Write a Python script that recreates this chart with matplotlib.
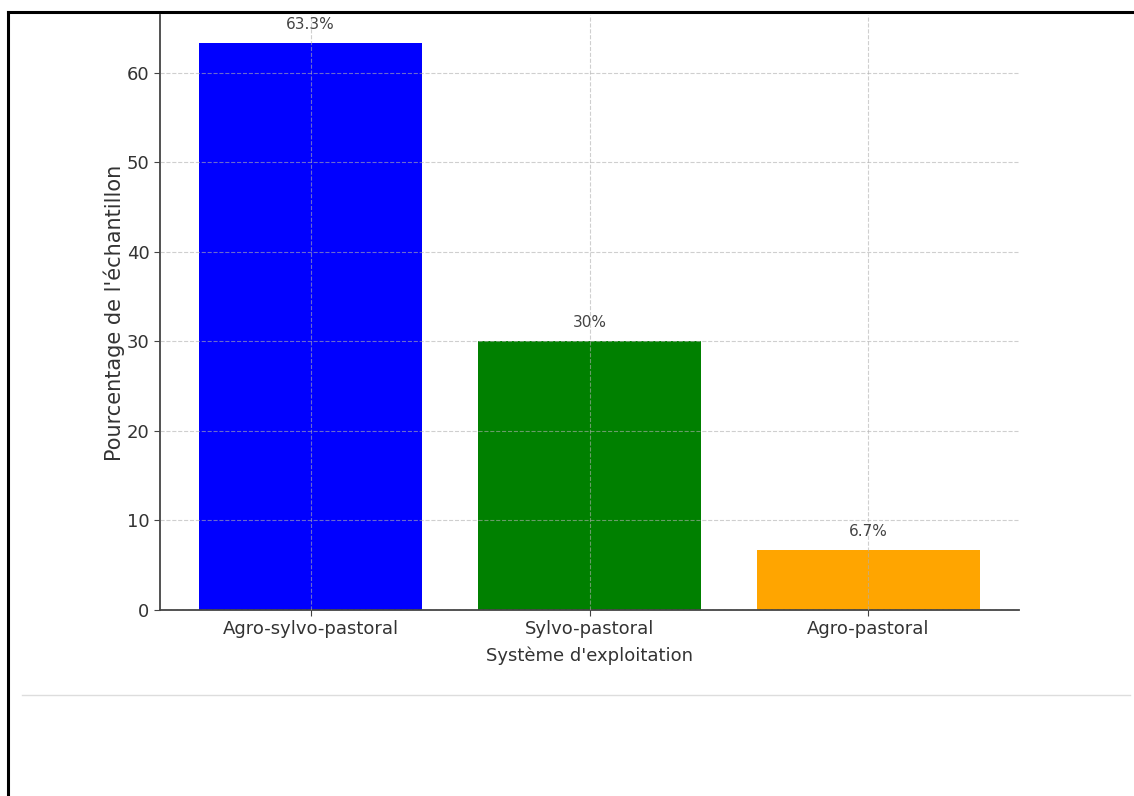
import matplotlib
matplotlib.use("Agg")
import matplotlib.pyplot as plt
from matplotlib.lines import Line2D

categories = ["Agro-sylvo-pastoral", "Sylvo-pastoral", "Agro-pastoral"]
values = [63.3, 30.0, 6.7]
value_labels = ["63.3%", "30%", "6.7%"]
colors = ["blue", "green", "orange"]

plt.rcParams["font.family"] = ["DejaVu Sans"]
text_color = "#333333"

fig = plt.figure(figsize=(11.34, 7.96), dpi=100)
ax = fig.add_axes([160 / 1134, 1 - 610 / 796, (1019 - 160) / 1134, (610 - 15) / 796])

x = range(len(categories))
bars = ax.bar(x, values, color=colors, width=0.8, zorder=1)
ax.set_xticks(list(x))
ax.set_xticklabels(categories)
ax.set_ylim(0, max(values) * 1.05)

for rect, lab in zip(bars, value_labels):
    ax.annotate(lab, (rect.get_x() + rect.get_width() / 2, rect.get_height()),
                xytext=(0, 8), textcoords="offset points",
                ha="center", va="bottom", fontsize=11, color="#444444")

ax.grid(True, linestyle="--", color="#b0b0b0", alpha=0.6, linewidth=0.8, zorder=2)
ax.set_axisbelow(False)
for side in ("top", "right"):
    ax.spines[side].set_visible(False)
for side in ("left", "bottom"):
    ax.spines[side].set_color("#444444")
    ax.spines[side].set_linewidth(1.3)
ax.tick_params(colors="#444444", labelcolor=text_color, labelsize=13, length=4)
ax.set_xlabel("Système d'exploitation", fontsize=13, color=text_color, labelpad=6)
ax.set_ylabel("Pourcentage de l'échantillon", fontsize=15, color=text_color, labelpad=1.5)

# page frame lines
fig.add_artist(Line2D([8 / 1134, 1.0], [1 - 12 / 796] * 2, color="black", linewidth=2.2,
                      transform=fig.transFigure))
fig.add_artist(Line2D([8 / 1134] * 2, [0, 1 - 12 / 796], color="black", linewidth=2.2,
                      transform=fig.transFigure))
fig.add_artist(Line2D([22 / 1134, 1130 / 1134], [1 - 695 / 796] * 2, color="#dddddd",
                      linewidth=1, transform=fig.transFigure))

fig.savefig("out.png", dpi=100)
